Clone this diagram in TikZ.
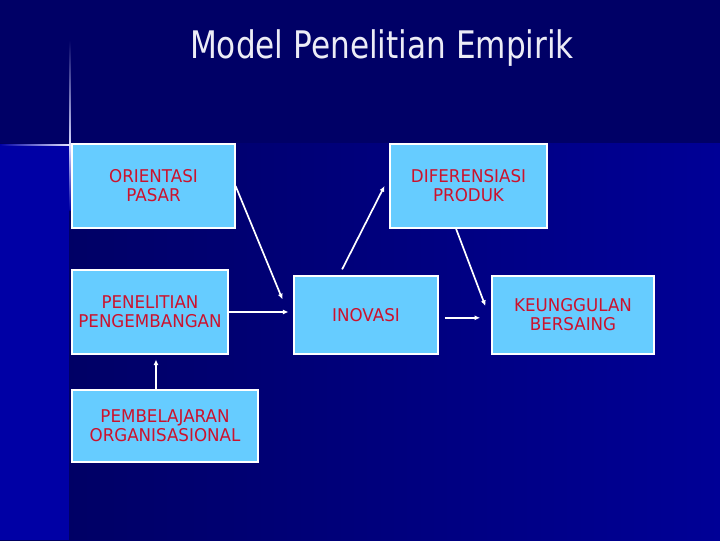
\documentclass[tikz,border=0pt]{standalone}
\usepackage{fontspec}
\setmainfont{DejaVu Sans}
\newfontfamily\titlefont[FakeStretch=0.82]{DejaVu Sans}
\newfontfamily\boxfont[FakeStretch=0.95]{DejaVu Sans}
\usetikzlibrary{positioning,arrows.meta}

\definecolor{bandnavy}{RGB}{0,0,102}
\definecolor{darkblue}{RGB}{0,0,96}
\definecolor{midblue}{RGB}{0,0,150}
\definecolor{stripblue}{RGB}{0,0,165}
\definecolor{boxfill}{RGB}{102,204,255}
\definecolor{boxtext}{RGB}{204,18,45}
\definecolor{titlegrey}{RGB}{236,236,246}

\tikzset{
  box/.style={draw=white, line width=0.8pt, fill=boxfill, text=boxtext,
    align=center, font=\boxfont\fontsize{12.5}{13.5}\selectfont, inner sep=0pt},
  arr/.style={draw=white, line width=1.2pt, -{Latex[length=4pt,width=3.6pt]}}
}

\begin{document}
\begin{tikzpicture}[x=0.025cm,y=-0.025cm]
  % Background
  \useasboundingbox (0,0) rectangle (720,540);
  \fill[left color=darkblue, right color=midblue] (0,0) rectangle (720,540);
  \fill[bandnavy] (0,0) rectangle (720,143);
  \fill[stripblue] (0,146) rectangle (69,540);
  \shade[top color=bandnavy, bottom color=white!85!blue] (69.4,40) rectangle (70.8,145);
  \shade[top color=white!85!blue, bottom color=stripblue] (69.4,145) rectangle (70.8,210);
  \shade[left color=stripblue, right color=white!90!blue] (0,144.3) rectangle (70,145.7);

  % Title
  \node[text=titlegrey, font=\titlefont\fontsize{27}{30}\selectfont] (title) at (382,48) {Model Penelitian Empirik};

  % Boxes
  \node[box, minimum width=4.075cm, minimum height=2.1cm] (orient) at (153.5,186) {ORIENTASI\\PASAR};
  \node[box, minimum width=3.925cm, minimum height=2.1cm] (diff) at (468.5,186) {DIFERENSIASI\\PRODUK};
  \node[box, minimum width=3.9cm, minimum height=2.1cm] (pen) at (150,312) {PENELITIAN\\PENGEMBANGAN};
  \node[box, minimum width=3.6cm, minimum height=1.95cm] (inov) at (366,315) {INOVASI};
  \node[box, minimum width=4.05cm, minimum height=1.95cm] (kung) at (573,315) {KEUNGGULAN\\BERSAING};
  \node[box, minimum width=4.65cm, minimum height=1.8cm] (pem) at (165,426) {PEMBELAJARAN\\ORGANISASIONAL};

  % Arrows
  \draw[arr] (orient.east) -- ([xshift=-7.8pt,yshift=-17pt]inov.north west);
  \draw[arr] (pen.east) -- (pen.east -| inov.west) [shorten >=3.5pt];
  \draw[arr] ([xshift=-17pt,yshift=4.3pt]inov.north) -- ([xshift=-3.5pt]diff.west);
  \draw[arr] ([xshift=-8.9pt]diff.south) -- ([xshift=-4.3pt,yshift=6.4pt]kung.west);
  \draw[arr] ([xshift=4.3pt,yshift=-2pt]inov.east) -- ([xshift=-8pt,yshift=-2pt]kung.west);
  \draw[arr, shorten >=3.5pt] ([xshift=-6.4pt]pem.north) -- ([xshift=-6.4pt]pem.north |- pen.south);
\end{tikzpicture}
\end{document}
